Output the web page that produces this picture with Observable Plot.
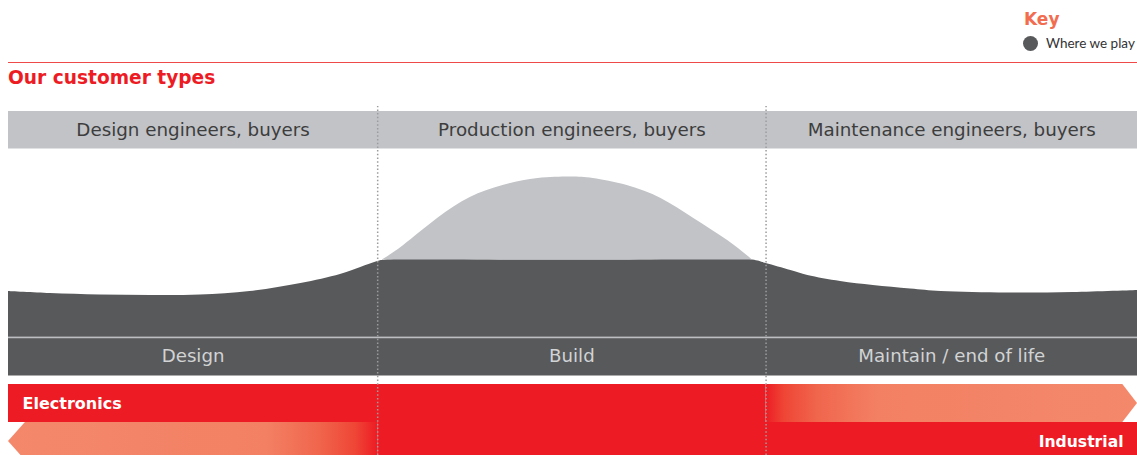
<!DOCTYPE html>
<html><head><meta charset="utf-8">
<script src="https://cdn.jsdelivr.net/npm/d3@7"></script>
<script src="https://cdn.jsdelivr.net/npm/@observablehq/plot@0.6"></script>
<style>
body{margin:0;background:#fff;font-family:"DejaVu Sans",sans-serif;}
#head{position:relative;width:1137px;height:104px;}
#key{position:absolute;left:1024px;top:9px;font-weight:bold;font-size:17px;line-height:20px;color:#f26d50;}
#keyitem{position:absolute;left:1023px;top:35px;font-family:Lato,sans-serif;font-size:13.5px;line-height:16px;color:#333;white-space:nowrap;}
#keyitem .dot{display:inline-block;width:15px;height:15px;border-radius:50%;background:#58595b;vertical-align:-3px;margin-right:8px;}
#rule{position:absolute;left:8px;top:62px;width:1129px;height:1px;background:#ef4a4a;}
#title{position:absolute;left:8px;top:66px;font-weight:bold;font-size:18.6px;line-height:24px;color:#ed1c24;white-space:nowrap;}
#chart svg{display:block;}
</style></head><body>
<div id="head">
  <div id="key">Key</div>
  <div id="keyitem"><span class="dot"></span>Where we play</div>
  <div id="rule"></div>
  <div id="title">Our customer types</div>
</div>
<div id="chart"></div>
<script>
// Lifecycle stages (x in % of lifecycle)
const stages = ["Design", "Build", "Maintain / end of life"];
const customerTypes = ["Design engineers, buyers", "Production engineers, buyers", "Maintenance engineers, buyers"];
const stageBounds = [0, 32.7, 67.1, 100];
const industries = ["Electronics", "Industrial"];

// "Where we play" curve (dark area)
const curveX = [0, 3.7, 8.1, 12.6, 17.0, 21.4, 25.9, 29.4, 31.2, 32.7, 33.4, 45, 55, 65.9, 67.1, 69.3, 70.8, 73.7, 76.6, 79.9, 82.6, 88.5, 94.3, 100];
const curveY = [164, 162, 160.5, 160, 160.5, 164, 172, 181, 188, 194, 195.5, 195.5, 195.5, 195.5, 192, 185, 180, 174, 170, 166.5, 164, 162.5, 163, 165];

// Build-phase peak (light area) on top of the flat level
const bumpX = [33.1, 35.0, 38.0, 40.9, 43.8, 46.9, 49.8, 51.8, 54.8, 57.8, 60.7, 63.7, 65.9];
const bumpY = [195.5, 210, 237, 258, 270, 277, 278.5, 277, 270, 257, 237, 215, 195.5];
const bumpBase = 195.5;

// Industry arrows
const electronicsArrowX = [67.1, 98.7, 100];
const electronicsArrowLo = [33, 33, 52];
const electronicsArrowHi = [71, 71, 52];
const industrialArrowX = [0, 1.5, 32.7];
const industrialArrowLo = [14, -5, -5];
const industrialArrowHi = [14, 33, 33];

const L = {header: [306.5, 344], headerText: 325, base: 118.3, sep: 117.6, stageBand: [79.5, 116.8], stageText: 99,
           elec: [33, 71], ind: [0, 33], elecText: 52, indText: 14, top: 349};

const mid = i => (stageBounds[i] + stageBounds[i + 1]) / 2;
const curve = curveX.map((x, i) => ({x, y: curveY[i]}));
const bump = bumpX.map((x, i) => ({x, y: bumpY[i]}));
const elecArrow = electronicsArrowX.map((x, i) => ({x, lo: electronicsArrowLo[i], hi: electronicsArrowHi[i]}));
const indArrow = industrialArrowX.map((x, i) => ({x, lo: industrialArrowLo[i], hi: industrialArrowHi[i]}));

const RED = "#ed1c24", DARK = "#58595b";

const svg = Plot.plot({
  width: 1137, height: 351,
  marginLeft: 8, marginRight: 0, marginTop: 0, marginBottom: 0,
  x: {domain: [0, 100], axis: null},
  y: {domain: [0, 351], axis: null},
  style: {fontFamily: "'DejaVu Sans', sans-serif", background: "#fff"},
  marks: [
    Plot.rect([0], {x1: 0, x2: 100, y1: L.header[0], y2: L.header[1], fill: "#c1c3c7"}),
    Plot.text(customerTypes, {x: (d, i) => mid(i), y: L.headerText, text: d => d, fill: "#3d3d3d", fontSize: 18.3}),
    Plot.areaY(curve, {x: "x", y1: L.base, y2: "y", fill: DARK, curve: "catmull-rom"}),
    Plot.areaY(bump, {x: "x", y1: bumpBase, y2: "y", fill: "#c1c3c7", curve: "natural"}),
    Plot.ruleY([L.sep], {x1: 0, x2: 100, stroke: "#a7a9ac", strokeWidth: 1.4}),
    Plot.rect([0], {x1: 0, x2: 100, y1: L.stageBand[0], y2: L.stageBand[1], fill: DARK}),
    Plot.text(stages, {x: (d, i) => mid(i), y: L.stageText, text: d => d, fill: "#d1d3d4", fontSize: 18.2}),
    Plot.rect([0], {x1: stageBounds[0], x2: stageBounds[2], y1: L.elec[0], y2: L.elec[1], fill: RED}),
    Plot.rect([0], {x1: stageBounds[1], x2: stageBounds[3], y1: L.ind[0], y2: L.ind[1], fill: RED}),
    Plot.areaY(elecArrow, {x: "x", y1: "lo", y2: "hi", fill: "url(#gradR)"}),
    Plot.areaY(indArrow, {x: "x", y1: "lo", y2: "hi", fill: "url(#gradL)", clip: true}),
    Plot.text([industries[0]], {x: 1.24, y: L.elecText, text: d => d, fill: "#fff", fontWeight: "bold", fontSize: 16, textAnchor: "start"}),
    Plot.text([industries[1]], {x: 98.76, y: L.indText, text: d => d, fill: "#fff", fontWeight: "bold", fontSize: 15.6, textAnchor: "end"}),
    Plot.ruleX(stageBounds.slice(1, 3), {y1: 0, y2: L.top, stroke: "#9c9c9c", strokeWidth: 1.5, strokeDasharray: "1.5 2.2"})
  ]
});

const ns = "http://www.w3.org/2000/svg";
const defs = document.createElementNS(ns, "defs");
function grad(id, stops) {
  const g = document.createElementNS(ns, "linearGradient");
  g.setAttribute("id", id);
  g.setAttribute("x1", "0"); g.setAttribute("x2", "1"); g.setAttribute("y1", "0"); g.setAttribute("y2", "0");
  for (const [o, c] of stops) {
    const s = document.createElementNS(ns, "stop");
    s.setAttribute("offset", o); s.setAttribute("stop-color", c);
    g.appendChild(s);
  }
  defs.appendChild(g);
}
grad("gradR", [[0, RED], [0.05, "#ef4636"], [0.14, "#f0664d"], [0.3, "#f38063"], [1, "#f4886b"]]);
grad("gradL", [[0, "#f4886b"], [0.7, "#f38063"], [0.84, "#f0664d"], [0.94, "#ef4636"], [1, RED]]);
svg.insertBefore(defs, svg.firstChild);
document.getElementById("chart").appendChild(svg);
</script>
</body></html>
